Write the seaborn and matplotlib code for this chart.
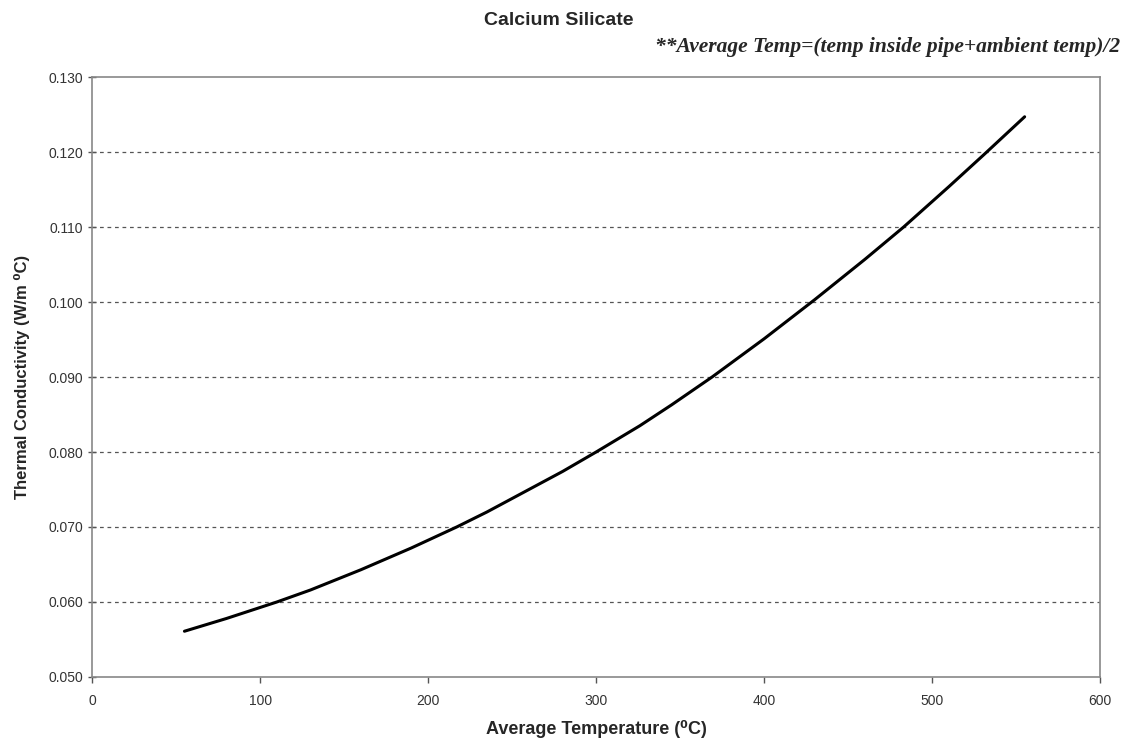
import matplotlib
matplotlib.use("Agg")
import matplotlib.pyplot as plt
import seaborn as sns
import pandas as pd
from matplotlib.ticker import FormatStrFormatter

# Data
avg_temp = [55, 80, 110, 130, 160, 190, 217, 235, 260, 280, 300, 326, 345, 369,
            400, 430, 460, 483, 510, 531, 555]
conductivity = [0.0561, 0.0578, 0.0600, 0.0616, 0.0643, 0.0672, 0.0700, 0.0720,
                0.0750, 0.0774, 0.0800, 0.0835, 0.0863, 0.0900, 0.0951, 0.1003,
                0.1057, 0.1100, 0.1154, 0.1197, 0.1247]
x_ticks = [0, 100, 200, 300, 400, 500, 600]
y_ticks = [0.050, 0.060, 0.070, 0.080, 0.090, 0.100, 0.110, 0.120, 0.130]

title = "Calcium Silicate"
note = "**Average Temp=(temp inside pipe+ambient temp)/2"
xlabel = "Average Temperature (\u2070C)"
ylabel = "Thermal Conductivity (W/m \u2070C)"

sns.set_style("white")
plt.rcParams['font.family'] = ['Liberation Sans', 'DejaVu Sans']

df = pd.DataFrame({"temp": avg_temp, "k": conductivity})

fig = plt.figure(figsize=(11.25, 7.45), dpi=100)
ax = fig.add_axes([0.0818, 0.0913, 0.8962, 0.8053])

sns.lineplot(data=df, x="temp", y="k", ax=ax, color="black", linewidth=2.2)

ax.set_xlim(x_ticks[0], x_ticks[-1])
ax.set_ylim(y_ticks[0], y_ticks[-1])
ax.set_xticks(x_ticks)
ax.set_yticks(y_ticks)
ax.yaxis.set_major_formatter(FormatStrFormatter("%.3f"))

for yv in y_ticks[1:-1]:
    ax.axhline(yv, color="#555555", linestyle=(0, (3, 3)), linewidth=0.9, zorder=0)

for s in ax.spines.values():
    s.set_color("#888888")
    s.set_linewidth(1.2)

ax.tick_params(axis="y", direction="inout", length=6, width=1, color="#555555",
               labelsize=10, labelcolor="#333333", left=True)
ax.tick_params(axis="x", direction="out", length=4, width=1, color="#555555",
               labelsize=10, labelcolor="#333333", bottom=True, pad=8)

ax.set_xlabel(xlabel, fontsize=13, fontweight="bold", labelpad=9)
ax.set_ylabel(ylabel, fontsize=12, fontweight="bold", labelpad=13)

fig.text(0.497, 0.972, title, ha="center", va="center", fontsize=14, fontweight="bold")
fig.text(0.996, 0.937, note, ha="right", va="center", fontsize=15.5, style="italic",
         fontweight="bold", family=["Liberation Serif", "DejaVu Serif"])

fig.savefig("out.png", dpi=100)
